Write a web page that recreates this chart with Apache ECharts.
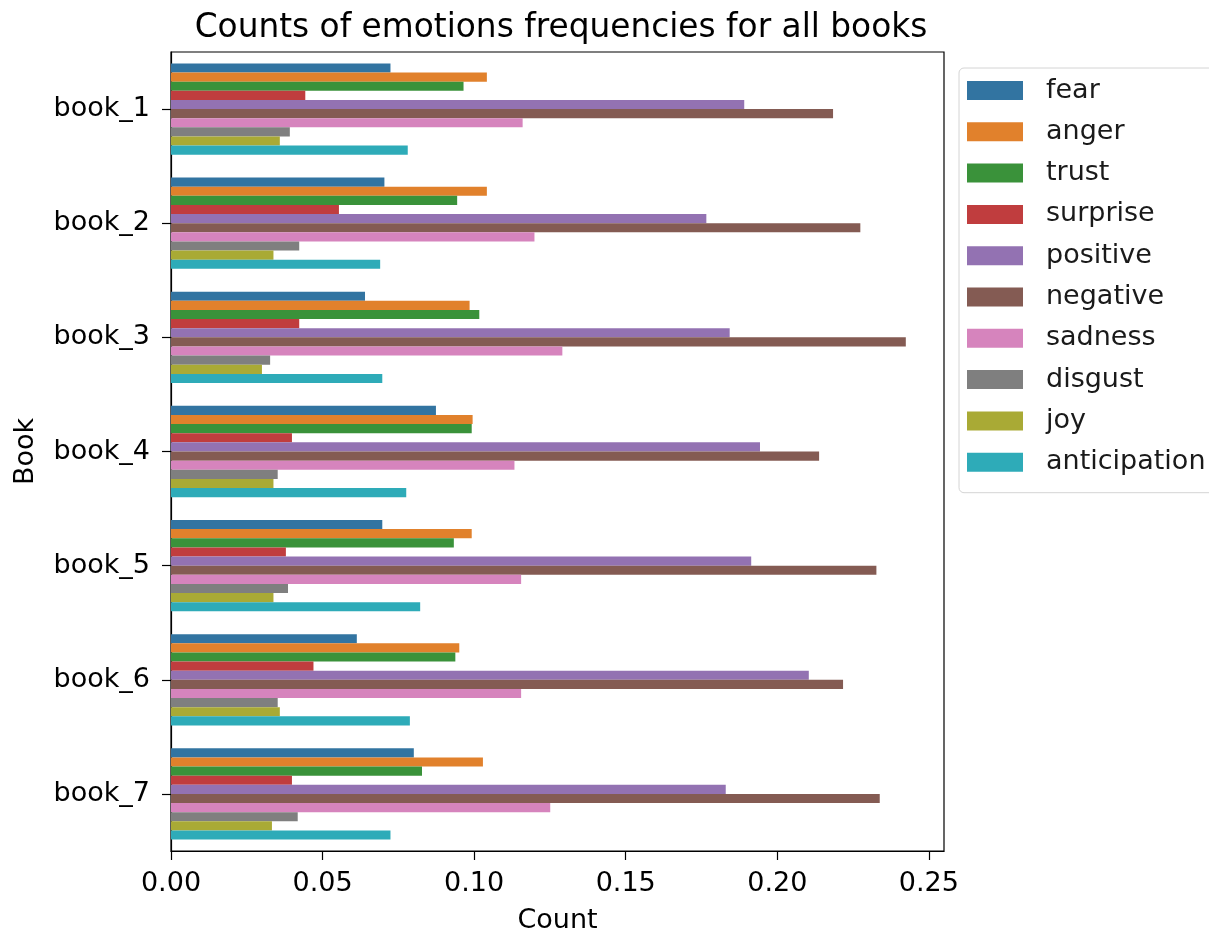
<!DOCTYPE html>
<html>
<head>
<meta charset="utf-8">
<script src="https://cdn.jsdelivr.net/npm/echarts@6/dist/echarts.min.js"></script>
<style>
  html, body { margin: 0; padding: 0; background: #fff; }
  #chart { width: 1209px; height: 939px; }
</style>
</head>
<body>
<div id="chart"></div>
<script>
// Books on the vertical axis
const books = ['book_1', 'book_2', 'book_3', 'book_4', 'book_5', 'book_6', 'book_7'];

// Emotion frequency per book (share of emotion words)
const fear         = [0.0724, 0.0704, 0.0640, 0.0874, 0.0697, 0.0613, 0.0801];
const anger        = [0.1042, 0.1042, 0.0985, 0.0995, 0.0992, 0.0951, 0.1029];
const trust        = [0.0965, 0.0944, 0.1017, 0.0992, 0.0933, 0.0938, 0.0828];
const surprise     = [0.0443, 0.0554, 0.0423, 0.0399, 0.0379, 0.0470, 0.0399];
const positive     = [0.1891, 0.1766, 0.1843, 0.1943, 0.1914, 0.2104, 0.1830];
const negative     = [0.2184, 0.2274, 0.2424, 0.2138, 0.2327, 0.2217, 0.2338];
const sadness      = [0.1160, 0.1199, 0.1291, 0.1133, 0.1155, 0.1155, 0.1251];
const disgust      = [0.0392, 0.0423, 0.0327, 0.0352, 0.0386, 0.0352, 0.0418];
const joy          = [0.0359, 0.0338, 0.0300, 0.0338, 0.0338, 0.0359, 0.0333];
const anticipation = [0.0781, 0.0690, 0.0697, 0.0776, 0.0822, 0.0788, 0.0724];

// Tick labels on the value axis
const countTicks = [0, 0.05, 0.10, 0.15, 0.20, 0.25];

const emotions = [
  ['fear', fear, '#3274a1'],
  ['anger', anger, '#e1812c'],
  ['trust', trust, '#3a923a'],
  ['surprise', surprise, '#c03d3e'],
  ['positive', positive, '#9372b2'],
  ['negative', negative, '#845b53'],
  ['sadness', sadness, '#d684bd'],
  ['disgust', disgust, '#7f7f7f'],
  ['joy', joy, '#a9aa35'],
  ['anticipation', anticipation, '#2eabb8']
];

const FONT = 'DejaVu Sans';
const chart = echarts.init(document.getElementById('chart'), null, { renderer: 'canvas' });

chart.setOption({
  animation: false,
  backgroundColor: '#ffffff',
  textStyle: { fontFamily: FONT },
  title: {
    text: 'Counts of emotions frequencies for all books',
    left: 556,
    textAlign: 'center',
    top: 7,
    textStyle: { fontFamily: FONT, fontSize: 32.8, fontWeight: 'normal', color: '#000' }
  },
  legend: {
    orient: 'vertical',
    left: 959,
    top: 68,
    padding: [9, 12, 17, 8],
    itemWidth: 56,
    itemHeight: 19,
    itemGap: 14.3,
    icon: 'rect',
    backgroundColor: '#ffffff',
    borderColor: '#d4d4d4',
    borderWidth: 1,
    borderRadius: 5,
    textStyle: { fontFamily: FONT, fontSize: 27, color: '#1a1a1a', padding: [0, 0, 0, 18] },
    data: emotions.map(e => e[0])
  },
  grid: {
    left: 171,
    right: 265,
    top: 52,
    bottom: 83,
    show: true,
    borderColor: '#000',
    borderWidth: 1.2,
    containLabel: false
  },
  xAxis: {
    type: 'value',
    min: 0,
    max: 0.255,
    name: 'Count',
    nameLocation: 'middle',
    nameGap: 56,
    nameTextStyle: { fontFamily: FONT, fontSize: 27, color: '#000' },
    splitLine: { show: false },
    axisLine: { show: true, lineStyle: { color: '#000', width: 1.2 } },
    axisTick: { show: true, length: 9, lineStyle: { color: '#000', width: 1.2 }, customValues: countTicks },
    axisLabel: {
      fontFamily: FONT, fontSize: 27, color: '#000', margin: 19,
      customValues: countTicks,
      formatter: v => v.toFixed(2)
    }
  },
  yAxis: {
    type: 'category',
    data: books,
    inverse: true,
    name: 'Book',
    nameLocation: 'middle',
    nameGap: 132,
    nameRotate: 90,
    nameTextStyle: { fontFamily: FONT, fontSize: 27, color: '#000' },
    axisLine: { show: true, lineStyle: { color: '#000', width: 1.2 } },
    axisTick: { show: true, alignWithLabel: true, length: 9, lineStyle: { color: '#000', width: 1.2 } },
    axisLabel: { fontFamily: FONT, fontSize: 27, color: '#000', margin: 21 },
    splitLine: { show: false }
  },
  series: emotions.map(([name, values, color]) => ({
    name,
    type: 'bar',
    data: values,
    barGap: '0%',
    barCategoryGap: '20%',
    itemStyle: { color }
  }))
});
</script>
</body>
</html>
